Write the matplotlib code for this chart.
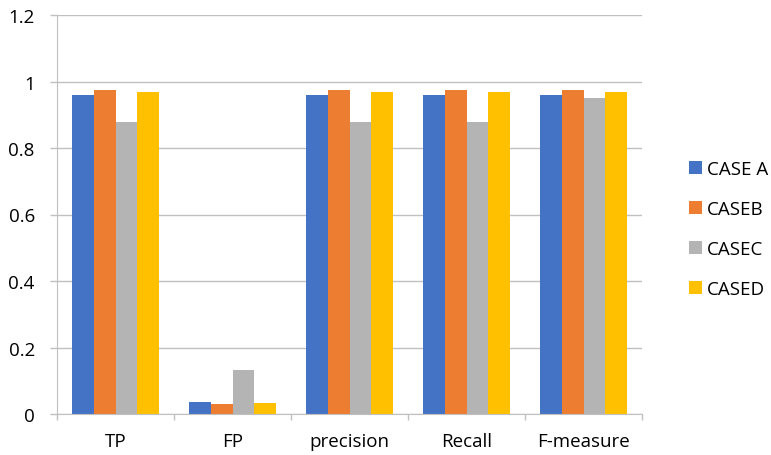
import matplotlib
matplotlib.use("Agg")
import matplotlib.pyplot as plt
import numpy as np
from matplotlib.patches import Patch

categories = ["TP", "FP", "precision", "Recall", "F-measure"]
series_names = ["CASE A", "CASEB", "CASEC", "CASED"]
case_a = [0.960, 0.035, 0.960, 0.960, 0.960]
case_b = [0.974, 0.031, 0.974, 0.974, 0.974]
case_c = [0.879, 0.131, 0.879, 0.879, 0.950]
case_d = [0.969, 0.033, 0.969, 0.969, 0.969]
y_ticks = [0, 0.2, 0.4, 0.6, 0.8, 1.0, 1.2]
y_tick_labels = ["0", "0.2", "0.4", "0.6", "0.8", "1", "1.2"]

colors = ["#4472C4", "#ED7D31", "#B4B4B4", "#FFC000"]
grid_color = "#C0C0C0"
fs = 13.5

plt.rcParams["font.family"] = ["Open Sans", "DejaVu Sans"]

fig = plt.figure(figsize=(7.71, 4.56), dpi=100)
ax = fig.add_axes([57 / 771, 1 - 415 / 456, (642 - 57) / 771, (415 - 16) / 456])

x = np.arange(len(categories))
bar_w = 0.188
all_series = [case_a, case_b, case_c, case_d]
for i, (vals, col) in enumerate(zip(all_series, colors)):
    offs = (i - 1.5) * bar_w
    ax.bar(x + offs, vals, width=bar_w, color=col, zorder=3, linewidth=0)

ax.set_xlim(-0.5, len(categories) - 0.5)
ax.set_ylim(0, 1.2)
ax.set_yticks(y_ticks)
ax.set_yticklabels(y_tick_labels, fontsize=fs)
ax.set_xticks(x)
ax.set_xticklabels(categories, fontsize=fs)
ax.tick_params(axis="x", length=0, pad=13)
ax.tick_params(axis="y", length=5, color=grid_color, width=1, pad=11)

# category separator ticks below the axis
ax.set_xticks(np.arange(-0.5, len(categories), 1.0), minor=True)
ax.tick_params(axis="x", which="minor", length=4.5, color=grid_color, width=1)

ax.yaxis.grid(True, color=grid_color, linewidth=1, zorder=0)
ax.set_axisbelow(True)
for side in ["top", "right"]:
    ax.spines[side].set_visible(False)
ax.spines["left"].set_color(grid_color)
ax.spines["bottom"].set_color(grid_color)
ax.spines["left"].set_zorder(1)
ax.spines["bottom"].set_zorder(4)

handles = [Patch(facecolor=c, edgecolor="none") for c in colors]
fig.legend(handles, series_names, loc="center left",
           bbox_to_anchor=(689 / 771, 1 - 230 / 456), frameon=False,
           fontsize=fs, handlelength=0.7, handleheight=0.7,
           labelspacing=1.18, handletextpad=0.27,
           borderpad=0, borderaxespad=0)

fig.savefig("out.png", dpi=100)
